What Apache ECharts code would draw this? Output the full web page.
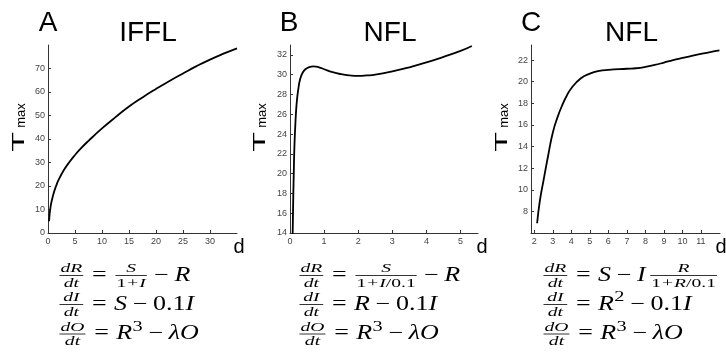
<!DOCTYPE html>
<html>
<head>
<meta charset="utf-8">
<script src="https://cdn.jsdelivr.net/npm/echarts@6/dist/echarts.min.js"></script>
<style>html,body{margin:0;background:#fff}#chart{width:726px;height:354px}</style>
</head>
<body>
<div id="chart"></div>
<script>
// panel A: IFFL
const aD = [0.2, 0.5, 1, 1.5, 2, 3, 4, 5, 6, 7.5, 10, 12.5, 15, 17.5, 20, 22.5, 25, 27.5, 30, 32.5, 35];
const aT = [5, 11.5, 16.5, 20, 22.8, 27, 30.3, 33.2, 35.8, 39.2, 44.5, 49.3, 53.8, 57.7, 61.3, 64.7, 67.9, 71, 73.8, 76.3, 78.6];
const aTicksX = [0, 5, 10, 15, 20, 25, 30];
const aTicksY = [0, 10, 20, 30, 40, 50, 60, 70];

// panel B: NFL
const bD = [0.07, 0.09, 0.11, 0.13, 0.16, 0.2, 0.25, 0.3, 0.37, 0.45, 0.55, 0.68, 0.85, 1.0, 1.25, 1.5, 1.75, 2.0, 2.25, 2.5, 3.0, 3.5, 4.0, 4.5, 5.0, 5.33];
const bT = [12, 16.5, 20, 22.8, 25.2, 27.3, 28.7, 29.6, 30.2, 30.55, 30.75, 30.84, 30.75, 30.55, 30.25, 30.05, 29.93, 29.88, 29.92, 30.0, 30.33, 30.75, 31.24, 31.8, 32.4, 32.9];
const bTicksX = [0, 1, 2, 3, 4, 5];
const bTicksY = [14, 16, 18, 20, 22, 24, 26, 28, 30, 32];

// panel C: NFL
const cD = [2.15, 2.3, 2.5, 2.75, 3, 3.25, 3.5, 3.75, 4, 4.5, 5, 5.5, 6, 7, 7.5, 8, 8.5, 9, 9.5, 10, 10.5, 11, 11.5, 12];
const cT = [6.9, 9.0, 10.9, 13.2, 15.3, 16.7, 17.8, 18.7, 19.4, 20.3, 20.75, 21.0, 21.1, 21.2, 21.25, 21.37, 21.55, 21.77, 22.0, 22.2, 22.4, 22.58, 22.75, 22.9];
const cTicksX = [2, 3, 4, 5, 6, 7, 8, 9, 10, 11];
const cTicksY = [8, 10, 12, 14, 16, 18, 20, 22];

const zip = (xs, ys) => xs.map((x, i) => [x, ys[i]]);

const SANS = '"Liberation Sans", Arial, sans-serif';
const SERIF = '"Liberation Serif", serif';
const SX = 1.3, SXS = 1.45;
const MAIN = 20, SUB = 13.5, SUP = 14;

function xAxis(idx, min, max, ticks) {
  return {
    type: 'value', gridIndex: idx, min: min, max: max,
    axisLine: { lineStyle: { color: '#333', width: 1 } },
    axisTick: { inside: true, length: 3, customValues: ticks, lineStyle: { color: '#333' } },
    axisLabel: { customValues: ticks, color: '#444', fontSize: 9, fontFamily: SANS, margin: 4 },
    splitLine: { show: false }
  };
}
function yAxis(idx, min, max, ticks) {
  return {
    type: 'value', gridIndex: idx, min: min, max: max,
    axisLine: { show: true, lineStyle: { color: '#333', width: 1 } },
    axisTick: { show: true, inside: true, length: 3, customValues: ticks, lineStyle: { color: '#333' } },
    axisLabel: { customValues: ticks, color: '#444', fontSize: 9, fontFamily: SANS, margin: 3 },
    splitLine: { show: false }
  };
}
function line(idx, data) {
  return {
    type: 'line', xAxisIndex: idx, yAxisIndex: idx, data: data,
    showSymbol: false, smooth: true, clip: true,
    lineStyle: { color: '#000', width: 1.8 }
  };
}

// equation layout (text pieces measured and placed one by one)
const ctx = document.createElement('canvas').getContext('2d');
function font(it, size) { return (it ? 'italic ' : '') + size + 'px ' + SERIF; }
function sc(size) { return size === MAIN ? SX : SXS; }
function tw(str, it, size) { ctx.font = font(it, size); return ctx.measureText(str).width * sc(size); }
const eqEls = [];
function txt(str, it, size, x, y) {
  eqEls.push({
    type: 'text', x: x, y: y, scaleX: sc(size), silent: true,
    style: { text: str, font: font(it, size), fill: '#000', align: 'left', verticalAlign: 'middle' }
  });
}
function pieceW(p, size) { return p[1] === 'pl' ? tw('+', false, size) + 2 : tw(p[0], p[1] === 'i', size); }
function runWidth(run, size) {
  return run.reduce((s, p) => s + pieceW(p, size), 0);
}
function placeRun(run, x, y, size) {
  run.forEach(p => {
    if (p[1] === 'pl') txt('+', false, size, x + 1, y);
    else txt(p[0], p[1] === 'i', size, x, y);
    x += pieceW(p, size);
  });
}
function row(tokens, x, y) {
  const minW = tw('dR', true, SUB);
  tokens.forEach(t => {
    if (t.f) {
      const nw = runWidth(t.f[0], SUB), dw = runWidth(t.f[1], SUB), fw = Math.max(nw, dw, minW) + 2;
      x += 1.5;
      placeRun(t.f[0], x + (fw - nw) / 2, y - 7, SUB);
      placeRun(t.f[1], x + (fw - dw) / 2, y + 7.5, SUB);
      eqEls.push({ type: 'line', silent: true, shape: { x1: x, y1: y, x2: x + fw, y2: y }, style: { stroke: '#000', lineWidth: 0.8 } });
      x += fw + 1.5;
    } else if (t[1] === 'op') {
      const gap = (t[0] === '=' ? 0.28 : 0.22) * MAIN * SX;
      x += gap; txt(t[0], false, MAIN, x, y); x += tw(t[0], false, MAIN) + gap;
    } else if (t[1] === 'sup') {
      txt(t[0], false, SUP, x + 0.5, y - 7); x += tw(t[0], false, SUP) + 0.5;
    } else if (t[1] === 'sp') {
      x += t[0];
    } else {
      txt(t[0], t[1] === 'i', MAIN, x, y); x += tw(t[0], t[1] === 'i', MAIN);
    }
  });
}
const F = (n, d) => ({ f: [n, d] });
const dR = [['dR', 'i']], dI = [['dI', 'i']], dO = [['dO', 'i']], dt = [['dt', 'i']];
const rowO = [F(dO, dt), ['=', 'op'], ['R', 'i'], ['3', 'sup'], ['−', 'op'], ['λO', 'i']];
const eqs = [
  [58, [
    [F(dR, dt), ['=', 'op'], F([['S', 'i']], [['1', 'n'], ['+', 'pl'], ['I', 'i']]), ['−', 'op'], ['R', 'i']],
    [F(dI, dt), ['=', 'op'], ['S', 'i'], ['−', 'op'], ['0.1', 'n'], ['I', 'i']],
    rowO]],
  [298, [
    [F(dR, dt), ['=', 'op'], F([['S', 'i']], [['1', 'n'], ['+', 'pl'], ['I', 'i'], ['/0.1', 'n']]), ['−', 'op'], ['R', 'i']],
    [F(dI, dt), ['=', 'op'], ['R', 'i'], ['−', 'op'], ['0.1', 'n'], ['I', 'i']],
    rowO]],
  [542, [
    [F(dR, dt), ['=', 'op'], ['S', 'i'], ['−', 'op'], ['I', 'i'], [3, 'sp'], F([['R', 'i']], [['1', 'n'], ['+', 'pl'], ['R', 'i'], ['/0.1', 'n']])],
    [F(dI, dt), ['=', 'op'], ['R', 'i'], ['2', 'sup'], ['−', 'op'], ['0.1', 'n'], ['I', 'i']],
    rowO]]
];
const rowY = [275.5, 304.5, 334];
eqs.forEach(col => col[1].forEach((r, i) => row(r, col[0], rowY[i])));

// titles, axis names
const labels = [];
function sans(str, size, x, y, extra) {
  labels.push(Object.assign({
    type: 'text', x: x, y: y, silent: true,
    style: { text: str, font: size + 'px ' + SANS, fill: '#000', align: 'center', verticalAlign: 'middle' }
  }, extra || {}));
}
[[0, 'A', 'IFFL', 148], [241, 'B', 'NFL', 390], [483, 'C', 'NFL', 631.5]].forEach(p => {
  const o = p[0];
  sans(p[1], 28, 48 + o, 23);
  sans(p[2], 28, p[3], 33);
  sans('T', 17, 19 + o, 142, { rotation: Math.PI / 2, scaleX: 1.9 });
  sans('max', 13, 21 + o, 115.5, { rotation: Math.PI / 2 });
});
sans('d', 20, 239, 247);
sans('d', 20, 482, 247);
sans('d', 20, 721, 247);

const chart = echarts.init(document.getElementById('chart'));
chart.setOption({
  animation: false,
  backgroundColor: '#fff',
  grid: [
    { left: 48, top: 45, width: 189, height: 188, outerBoundsMode: 'none' },
    { left: 290, top: 45, width: 188, height: 188, outerBoundsMode: 'none' },
    { left: 531, top: 45, width: 189, height: 188, outerBoundsMode: 'none' }
  ],
  xAxis: [xAxis(0, 0, 35, aTicksX), xAxis(1, 0, 5.51, bTicksX), xAxis(2, 1.82, 12.03, cTicksX)],
  yAxis: [yAxis(0, 0, 80, aTicksY), yAxis(1, 14, 33, bTicksY), yAxis(2, 6, 23.4, cTicksY)],
  series: [line(0, zip(aD, aT)), line(1, zip(bD, bT)), line(2, zip(cD, cT))],
  graphic: labels.concat(eqEls)
});
</script>
</body>
</html>
